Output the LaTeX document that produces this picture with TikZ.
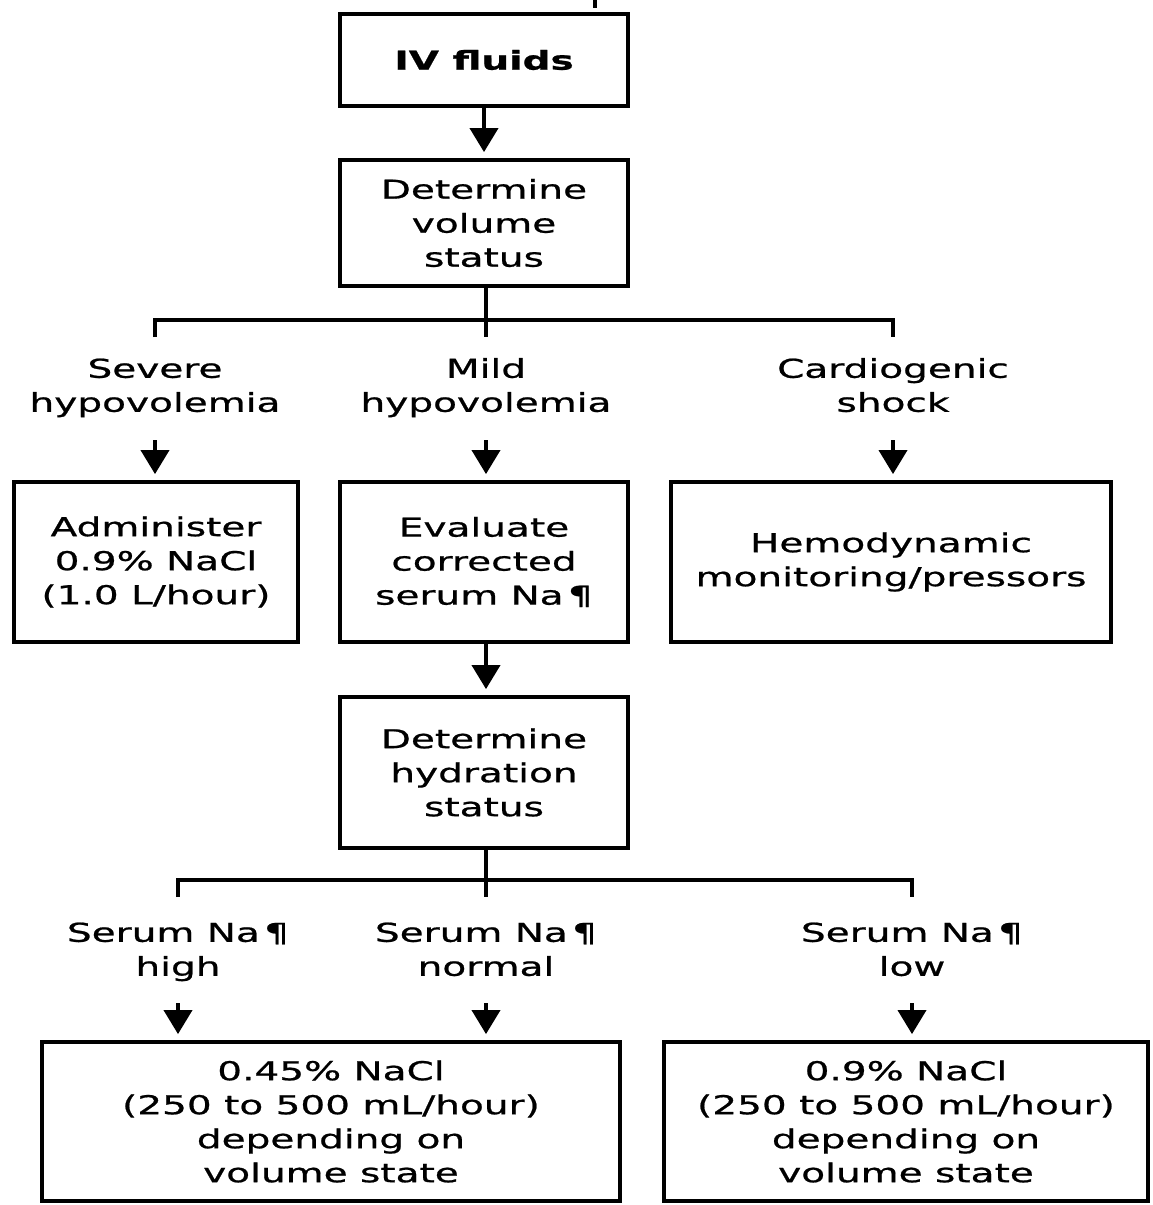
\documentclass[tikz,border=0pt]{standalone}
\usepackage{fontspec}
\setmainfont{DejaVu Sans}[FakeStretch=1.5, FakeBold=0.8, BoldFeatures={FakeStretch=1.5}]
\usetikzlibrary{arrows.meta}
\begin{document}
\begin{tikzpicture}[x=1pt,y=-1pt,
  every node/.style={font=\fontsize{26}{34}\selectfont, align=center, inner sep=0pt},
  box/.style={draw, line width=3.8pt},
  lab/.style={},
  conn/.style={line width=3.8pt},
  arr/.style={conn, -{Triangle[width=28pt,length=24pt]}, shorten >=6pt}]
\fill[white] (0,0) rectangle (1152,1205);
\useasboundingbox (0,0) rectangle (1152,1205);

% top stub
\coordinate (ts1) at (595,0);
\coordinate (ts2) at (595,8);
\draw[conn] (ts1) -- (ts2);

\node[box, minimum width=288pt, minimum height=92pt] (iv) at (484,60) {\bfseries IV fluids};
\node[box, minimum width=288pt, minimum height=126pt] (dvs) at (484,223) {Determine\\volume\\status};
\draw[arr] (iv) -- (dvs);

% first branching
\coordinate (m1e) at (486,337);
\coordinate (l1) at (155,320);
\coordinate (l1e) at (155,337);
\coordinate (r1) at (893,320);
\coordinate (r1e) at (893,337);
\draw[conn] (dvs.south -| m1e) -- (m1e);
\draw[conn] (l1e) -- (l1) -- (r1) -- (r1e);

\node[lab] (sev) at (155,388) {\strut Severe\\hypovolemia\strut};
\node[lab] (mild) at (486,388) {\strut Mild\\hypovolemia\strut};
\node[lab] (card) at (893,388) {\strut Cardiogenic\\shock\strut};

\node[box, minimum width=284pt, minimum height=160pt] (adm) at (156,562) {Administer\\0.9\% NaCl\\(1.0 L/hour)};
\node[box, minimum width=288pt, minimum height=160pt] (evl) at (484,562) {Evaluate\\corrected\\serum Na\,¶};
\node[box, minimum width=440pt, minimum height=160pt] (hem) at (891,562) {Hemodynamic\\monitoring/pressors};

\draw[arr, shorten <=18pt] (sev.south) -- (sev.south |- adm.north);
\draw[arr, shorten <=18pt] (mild.south) -- (mild.south |- evl.north);
\draw[arr, shorten <=18pt] (card.south) -- (card.south |- hem.north);

\node[box, minimum width=288pt, minimum height=151pt] (dhs) at (484,772.5) {Determine\\hydration\\status};
\draw[arr] (evl.south -| m1e) -- (dhs.north -| m1e);

% second branching
\coordinate (m2e) at (486,897);
\coordinate (l2) at (178,880);
\coordinate (l2e) at (178,897);
\coordinate (r2) at (912,880);
\coordinate (r2e) at (912,897);
\draw[conn] (dhs.south -| m2e) -- (m2e);
\draw[conn] (l2e) -- (l2) -- (r2) -- (r2e);

\node[lab] (hi) at (178,952) {\strut Serum Na\,¶\\high\strut};
\node[lab] (nrm) at (486,952) {\strut Serum Na\,¶\\normal\strut};
\node[lab] (lo) at (912,952) {\strut Serum Na\,¶\\low\strut};

\node[box, minimum width=578pt, minimum height=159pt] (bl) at (331,1121.5) {0.45\% NaCl\\(250 to 500 mL/hour)\\depending on\\volume state};
\node[box, minimum width=484pt, minimum height=159pt] (br) at (906,1121.5) {0.9\% NaCl\\(250 to 500 mL/hour)\\depending on\\volume state};

\draw[arr, shorten <=17pt] (hi.south) -- (hi.south |- bl.north);
\draw[arr, shorten <=17pt] (nrm.south) -- (nrm.south |- bl.north);
\draw[arr, shorten <=17pt] (lo.south) -- (lo.south |- br.north);
\end{tikzpicture}
\end{document}
